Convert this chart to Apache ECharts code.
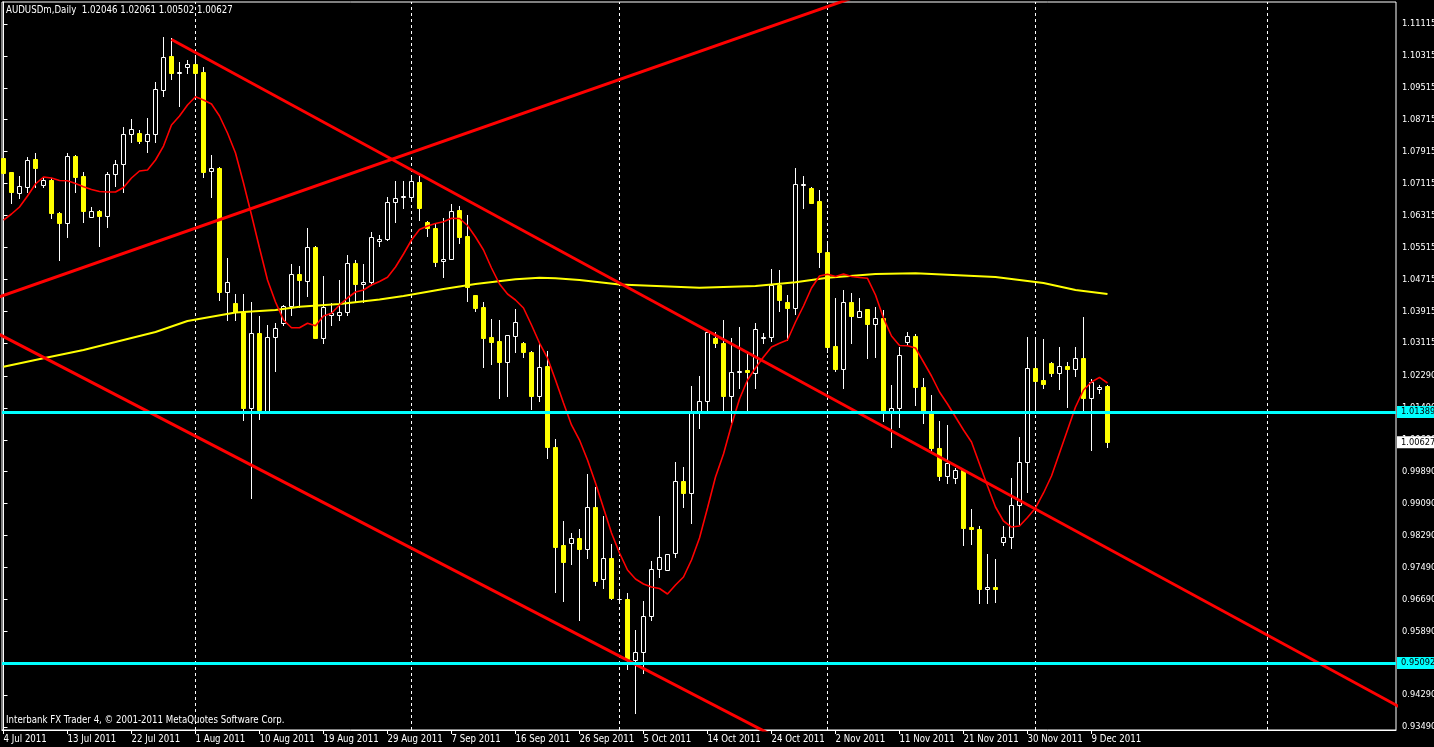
<!DOCTYPE html>
<html>
<head>
<meta charset="utf-8">
<script src="https://cdn.jsdelivr.net/npm/echarts@6/dist/echarts.min.js"></script>
<style>
html,body{margin:0;padding:0;background:#000;}
#chart{width:1434px;height:747px;}
</style>
</head>
<body>
<div id="chart"></div>
<script>
const symbolName = 'AUDUSDm,Daily';
const footerText = 'Interbank FX Trader 4, \u00a9 2001-2011 MetaQuotes Software Corp.';

const dates = [
'4 Jul 2011','5 Jul 2011','6 Jul 2011','7 Jul 2011','8 Jul 2011',
'10 Jul 2011','11 Jul 2011','12 Jul 2011','13 Jul 2011','14 Jul 2011','15 Jul 2011',
'17 Jul 2011','18 Jul 2011','19 Jul 2011','20 Jul 2011','21 Jul 2011','22 Jul 2011',
'24 Jul 2011','25 Jul 2011','26 Jul 2011','27 Jul 2011','28 Jul 2011','29 Jul 2011',
'31 Jul 2011','1 Aug 2011','2 Aug 2011','3 Aug 2011','4 Aug 2011','5 Aug 2011',
'7 Aug 2011','8 Aug 2011','9 Aug 2011','10 Aug 2011','11 Aug 2011','12 Aug 2011',
'14 Aug 2011','15 Aug 2011','16 Aug 2011','17 Aug 2011','18 Aug 2011','19 Aug 2011',
'21 Aug 2011','22 Aug 2011','23 Aug 2011','24 Aug 2011','25 Aug 2011','26 Aug 2011',
'28 Aug 2011','29 Aug 2011','30 Aug 2011','31 Aug 2011','1 Sep 2011','2 Sep 2011',
'4 Sep 2011','5 Sep 2011','6 Sep 2011','7 Sep 2011','8 Sep 2011','9 Sep 2011',
'11 Sep 2011','12 Sep 2011','13 Sep 2011','14 Sep 2011','15 Sep 2011','16 Sep 2011',
'18 Sep 2011','19 Sep 2011','20 Sep 2011','21 Sep 2011','22 Sep 2011','23 Sep 2011',
'25 Sep 2011','26 Sep 2011','27 Sep 2011','28 Sep 2011','29 Sep 2011','30 Sep 2011',
'2 Oct 2011','3 Oct 2011','4 Oct 2011','5 Oct 2011','6 Oct 2011','7 Oct 2011',
'9 Oct 2011','10 Oct 2011','11 Oct 2011','12 Oct 2011','13 Oct 2011','14 Oct 2011',
'16 Oct 2011','17 Oct 2011','18 Oct 2011','19 Oct 2011','20 Oct 2011','21 Oct 2011',
'23 Oct 2011','24 Oct 2011','25 Oct 2011','26 Oct 2011','27 Oct 2011','28 Oct 2011',
'30 Oct 2011','31 Oct 2011','1 Nov 2011','2 Nov 2011','3 Nov 2011','4 Nov 2011',
'6 Nov 2011','7 Nov 2011','8 Nov 2011','9 Nov 2011','10 Nov 2011','11 Nov 2011',
'13 Nov 2011','14 Nov 2011','15 Nov 2011','16 Nov 2011','17 Nov 2011','18 Nov 2011',
'20 Nov 2011','21 Nov 2011','22 Nov 2011','23 Nov 2011','24 Nov 2011','25 Nov 2011',
'27 Nov 2011','28 Nov 2011','29 Nov 2011','30 Nov 2011','1 Dec 2011','2 Dec 2011',
'4 Dec 2011','5 Dec 2011','6 Dec 2011','7 Dec 2011','8 Dec 2011','9 Dec 2011',
'11 Dec 2011','12 Dec 2011'
];

const open = [
1.07748,1.07397,1.06886,1.07036,1.07731,1.07079,1.07204,1.06384,1.06134,1.07806,
1.07305,1.06284,1.06427,1.06309,1.07347,1.07598,1.08350,1.08390,1.08190,1.08350,
1.09461,1.10313,1.09894,1.10045,1.10112,1.09919,1.07437,1.07498,1.04404,1.04113,
1.03887,1.01480,1.03361,1.01420,1.03276,1.03627,1.04053,1.04840,1.04680,1.05517,
1.03251,1.03820,1.03820,1.03902,1.05116,1.04589,1.04654,1.05675,1.05718,1.06645,
1.06778,1.06785,1.07147,1.06144,1.05993,1.05174,1.05216,1.06452,1.05808,1.04321,
1.04028,1.03276,1.03168,1.02649,1.03301,1.03110,1.02899,1.01796,1.02541,1.00502,
0.98053,0.98096,0.98221,0.97945,0.98998,0.97193,0.97720,0.96692,0.96692,0.95170,
0.95378,0.96281,0.97444,0.97426,0.97845,0.99658,0.99349,1.01355,1.01663,1.03236,
1.03110,1.01796,1.02383,1.02441,1.02358,1.03251,1.03261,1.04572,1.04153,1.03988,
1.07086,1.06996,1.06678,1.05391,1.03042,1.02466,1.04138,1.03777,1.03962,1.03586,
1.03737,1.01420,1.01480,1.03150,1.03293,1.02007,1.01355,1.00477,0.99790,0.99740,
0.99933,0.98512,0.98454,0.96942,0.96993,0.98136,0.98246,0.99056,1.00126,1.02483,
1.02190,1.02624,1.02358,1.02541,1.02458,1.02734,1.01731,1.01957,1.02046
];
const high = [
1.07831,1.07405,1.07305,1.07788,1.07874,1.07247,1.07254,1.06410,1.07889,1.07831,
1.07412,1.06520,1.06452,1.07412,1.07706,1.08540,1.08734,1.08458,1.08751,1.09669,
1.10797,1.10757,1.10155,1.10213,1.10263,1.10045,1.07831,1.07538,1.05241,1.04339,
1.04346,1.04153,1.03795,1.03569,1.03612,1.04070,1.05091,1.05048,1.05993,1.05549,
1.04797,1.04113,1.04697,1.05324,1.05199,1.05091,1.05908,1.05825,1.06770,1.07179,
1.07179,1.07330,1.07305,1.06184,1.06119,1.06244,1.06602,1.06552,1.06327,1.04321,
1.04153,1.03719,1.03694,1.03330,1.03962,1.03135,1.02920,1.03092,1.02917,1.00711,
0.98655,0.98346,0.98454,0.99833,0.99515,0.98780,0.98078,0.96925,0.96842,0.95922,
0.96649,0.97660,0.98780,0.97830,1.00142,1.00016,1.02039,1.02290,1.03444,1.03386,
1.03694,1.03236,1.03511,1.02925,1.03612,1.03361,1.04973,1.04948,1.04321,1.07498,
1.07305,1.07036,1.06953,1.05617,1.04253,1.04446,1.04363,1.04238,1.03975,1.04028,
1.03945,1.02065,1.03025,1.03386,1.03343,1.02232,1.01814,1.01162,1.01061,0.99976,
0.99950,0.98956,0.98529,0.97820,0.97702,0.98529,0.99725,1.00768,1.03276,1.03210,
1.03210,1.02649,1.03010,1.02649,1.03010,1.03762,1.02207,1.02065,1.02061
];
const low = [
1.07079,1.06620,1.06745,1.06911,1.07036,1.07036,1.06244,1.05199,1.05783,1.06911,
1.06159,1.06284,1.05550,1.06033,1.07054,1.06911,1.08164,1.08124,1.07914,1.08164,
1.09318,1.09736,1.09067,1.09894,1.09310,1.07287,1.06785,1.04196,1.03694,1.03694,
1.01187,0.99224,1.01205,1.01388,1.02423,1.03569,1.03820,1.04028,1.04304,1.03236,
1.03110,1.03569,1.03694,1.03820,1.04153,1.04153,1.04572,1.05557,1.05700,1.06159,
1.06495,1.06753,1.06201,1.05808,1.05048,1.04780,1.05216,1.05617,1.04178,1.03927,
1.02523,1.02591,1.01731,1.01796,1.02899,1.02774,1.01455,1.01671,1.00242,0.96882,
0.96657,0.97577,0.96173,0.97735,0.97050,0.96983,0.96700,0.96591,0.94937,0.93849,
0.94837,0.96173,0.97258,0.97416,0.97760,0.99013,0.98612,1.00979,1.01395,1.03025,
1.01438,1.01145,1.01982,1.01438,1.01982,1.03125,1.03175,1.03927,1.03193,1.03845,
1.06510,1.06620,1.05030,1.02892,1.02423,1.01997,1.03125,1.03777,1.02734,1.02774,
1.01162,1.00502,1.01019,1.03067,1.01563,1.01104,1.00352,0.99683,0.99615,0.99615,
0.98053,0.98078,0.96606,0.96606,0.96631,0.98053,0.97985,0.98580,0.99389,1.01438,
1.01997,1.02298,1.01964,1.01521,1.02290,1.01395,1.00435,1.01856,1.00502
];
const close = [
1.07372,1.06896,1.07054,1.07706,1.07513,1.07204,1.06369,1.06134,1.07806,1.07287,
1.06435,1.06427,1.06309,1.07355,1.07598,1.08350,1.08483,1.08190,1.08350,1.09478,
1.10280,1.09894,1.09900,1.10112,1.09894,1.07412,1.07498,1.04404,1.04640,1.03887,
1.01480,1.03361,1.01438,1.03276,1.03486,1.04053,1.04840,1.04697,1.05517,1.03251,
1.04013,1.03862,1.03902,1.05116,1.04589,1.04654,1.05768,1.05725,1.06645,1.06745,
1.06796,1.07179,1.06510,1.05993,1.05141,1.05224,1.06427,1.05783,1.04514,1.03988,
1.03251,1.03150,1.02649,1.03318,1.03637,1.02884,1.01796,1.02523,1.00502,0.98010,
0.97634,0.98221,0.97945,0.98998,0.97158,0.97720,0.96717,0.96702,0.95188,0.95378,
0.96281,0.97444,0.97745,0.97820,0.99658,0.99349,1.01355,1.01663,1.03401,1.03110,
1.01796,1.02383,1.02423,1.02383,1.03461,1.03268,1.04572,1.04196,1.03988,1.07096,
1.07104,1.06635,1.05391,1.03025,1.02466,1.04138,1.03802,1.03927,1.03586,1.03737,
1.01388,1.01480,1.02817,1.03293,1.02007,1.01395,1.00477,0.99790,1.00101,0.99933,
0.98487,0.98447,0.96942,0.97008,0.96942,0.98261,0.99056,1.00126,1.02483,1.02172,
1.02082,1.02358,1.02541,1.02458,1.02734,1.01731,1.02132,1.02022,1.00627
];

// thin red moving average, read at each bar
const redMA = [
1.06201,1.06352,1.06527,1.06803,1.07104,1.07279,1.07254,1.07191,1.07186,1.07116,
1.07036,1.06966,1.06916,1.06903,1.06903,1.07016,1.07254,1.07430,1.07455,1.07706,
1.08056,1.08583,1.08808,1.09084,1.09292,1.09210,1.09109,1.08808,1.08382,1.07881,
1.07129,1.06326,1.05499,1.04697,1.04145,1.03694,1.03501,1.03501,1.03612,1.03551,
1.03794,1.03862,1.04070,1.04246,1.04396,1.04446,1.04572,1.04659,1.04765,1.05023,
1.05349,1.05700,1.05963,1.06051,1.06113,1.06159,1.06244,1.06239,1.06063,1.05775,
1.05449,1.04998,1.04597,1.04346,1.04196,1.03995,1.03569,1.03117,1.02741,1.02190,
1.01613,1.01062,1.00685,1.00184,0.99607,0.98981,0.98354,0.97852,0.97426,0.97201,
0.97075,0.97000,0.96962,0.96825,0.97050,0.97251,0.97677,0.98228,0.98981,0.99758,
1.00334,1.01062,1.01713,1.02190,1.02491,1.02766,1.03017,1.03110,1.03193,1.03644,
1.04045,1.04496,1.04797,1.04840,1.04785,1.04847,1.04785,1.04760,1.04740,1.04321,
1.03744,1.03293,1.03055,1.03050,1.02992,1.02641,1.02290,1.01889,1.01588,1.01262,
1.00936,1.00635,1.00084,0.99532,0.99006,0.98655,0.98504,0.98529,0.98743,0.98981,
0.99357,0.99783,1.00360,1.00936,1.01513,1.01939,1.02140,1.02257,1.02115
];

// slow yellow moving average, read at [bar index, price]
const yellowMA = [
[0,1.02523],[5,1.02734],[10,1.02942],[14,1.03142],[19,1.03393],[23,1.03669],
[29,1.03882],[34,1.03945],[37,1.04028],[42,1.04095],[47,1.04208],[50,1.04296],
[55,1.04471],[59,1.04597],[64,1.04714],[67,1.04754],[69,1.04740],[72,1.04697],
[77,1.04584],[87,1.04504],[94,1.04546],[99,1.04639],[103,1.04754],[109,1.04847],
[114,1.04865],[124,1.04772],[130,1.04622],[134,1.04446],[138,1.04346]
];

// red trend lines: [[bar index, price], [bar index, price]]
const trendLines = [
[[-5,1.03961],[120,1.12746]],
[[-5,1.03800],[120,0.90794]],
[[21,1.10726],[200,0.91213]]
];

const hLines = [1.01389, 0.95092];
const separatorIdx = [24, 51, 77, 103, 129, 158];
const xTickIdx = [0,8,16,24,32,40,48,56,64,72,80,88,96,104,112,120,128,136];
const yTicks = [1.11115,1.10315,1.09515,1.08715,1.07915,1.07115,1.06315,1.05515,1.04715,
1.03915,1.03115,1.02290,1.01490,1.00690,0.99890,0.99090,0.98290,0.97490,0.96690,
0.95890,0.95090,0.94290,0.93490];

const Y_MIN = 0.93415, Y_MAX = 1.11667;
const X_MIN = -0.1875, X_MAX = 174.0625;
const FONT = '"DejaVu Sans Condensed", "DejaVu Sans", sans-serif';
const FS = 9.6;
const FS_Y = 9.2;

const last = close.length - 1;
const headerText = symbolName + '  ' + open[last].toFixed(5) + ' ' + high[last].toFixed(5) + ' ' +
  low[last].toFixed(5) + ' ' + close[last].toFixed(5);

const candleData = dates.map((d, i) => [i, open[i], close[i], low[i], high[i]]);

function renderCandle(params, api) {
  const i = api.value(0);
  const o = api.value(1), c = api.value(2), l = api.value(3), h = api.value(4);
  const pO = api.coord([i, o]), pC = api.coord([i, c]);
  const pH = api.coord([i, h]), pL = api.coord([i, l]);
  const x = Math.floor(pO[0] + 0.01) + 0.5;
  const up = c >= o;
  const yTop = Math.round(Math.min(pO[1], pC[1])) + 0.5;
  const yBot = Math.round(Math.max(pO[1], pC[1])) + 0.5;
  return {
    type: 'group',
    children: [
      { type: 'line', shape: { x1: x, y1: Math.round(pH[1]), x2: x, y2: Math.round(pL[1]) + 1 },
        style: { stroke: '#ffffff', lineWidth: 1 } },
      { type: 'rect', shape: { x: x - 2, y: yTop, width: 4, height: yBot - yTop },
        style: { fill: up ? '#000000' : '#ffff00', stroke: up ? '#ffffff' : '#ffff00', lineWidth: 1 } }
    ]
  };
}

const series = [];

separatorIdx.forEach(i => {
  series.push({
    type: 'line', data: [[i, Y_MIN], [i, Y_MAX]], symbol: 'none', silent: true, z: 1,
    lineStyle: { color: '#ffffff', width: 1, type: [3, 3] }
  });
});

series.push({
  type: 'custom', renderItem: renderCandle, data: candleData, z: 2, silent: true,
  encode: { x: 0, y: [1, 2, 3, 4] }
});

series.push({
  type: 'line', data: yellowMA, symbol: 'none', silent: true, z: 3,
  lineStyle: { color: '#ffff00', width: 2 }
});

series.push({
  type: 'line', data: redMA.map((v, i) => [i, v]), symbol: 'none', silent: true, z: 3,
  lineStyle: { color: '#ff0000', width: 1.6 }
});

trendLines.forEach(t => {
  series.push({
    type: 'line', data: t, symbol: 'none', silent: true, z: 3,
    lineStyle: { color: '#ff0000', width: 3 }
  });
});

const priceLabel = (bg) => ({
  show: true, position: 'end', distance: 1,
  formatter: p => Number(p.value).toFixed(5),
  color: '#000', backgroundColor: bg, fontSize: FS_Y, fontFamily: FONT,
  lineHeight: 11, padding: [1, 6, 0, 4]
});

series.push({
  type: 'line', data: [], silent: true,
  markLine: {
    silent: true, symbol: ['none', 'none'], z: 5, precision: 5,
    lineStyle: { color: '#00ffff', width: 3, type: 'solid' },
    label: priceLabel('#00ffff'),
    data: hLines.map(v => ({ yAxis: v }))
  }
});
series.push({
  type: 'line', data: [], silent: true,
  markLine: {
    silent: true, symbol: ['none', 'none'], z: 6, precision: 5,
    lineStyle: { color: 'rgba(0,0,0,0)', width: 1, type: 'solid' },
    label: priceLabel('#ffffff'),
    data: [{ yAxis: close[last] }]
  }
});

const chart = echarts.init(document.getElementById('chart'), null, { renderer: 'canvas' });
chart.setOption({
  animation: false,
  backgroundColor: '#000000',
  title: [
    { text: headerText, left: 6, top: 5, padding: 0,
      textStyle: { color: '#ffffff', fontSize: FS, fontWeight: 'normal', fontFamily: FONT } },
    { text: footerText, left: 6, top: 715, padding: 0,
      textStyle: { color: '#ffffff', fontSize: FS, fontWeight: 'normal', fontFamily: FONT } }
  ],
  grid: { left: 2, top: 2, right: 38, bottom: 17, containLabel: false, outerBoundsMode: 'none',
    show: true, borderColor: '#ffffff', borderWidth: 1, backgroundColor: '#000000' },
  xAxis: {
    type: 'value', min: X_MIN, max: X_MAX,
    axisLine: { show: true, lineStyle: { color: '#ffffff', width: 1 } },
    axisTick: { show: true, customValues: xTickIdx, length: 4, lineStyle: { color: '#ffffff' } },
    axisLabel: { customValues: xTickIdx, formatter: v => dates[Math.round(v)] || '', color: '#ffffff',
      fontSize: FS, fontFamily: FONT, align: 'left', margin: 4 },
    splitLine: { show: false }
  },
  yAxis: {
    type: 'value', position: 'right', min: Y_MIN, max: Y_MAX,
    axisLine: { show: true, lineStyle: { color: '#ffffff', width: 1 } },
    axisTick: { show: true, customValues: yTicks, length: 4, lineStyle: { color: '#ffffff' } },
    axisLabel: { customValues: yTicks, formatter: v => Number(v).toFixed(5), color: '#ffffff',
      fontSize: FS_Y, fontFamily: FONT, margin: 6 },
    splitLine: { show: false }
  },
  series: series
});
</script>
</body>
</html>
